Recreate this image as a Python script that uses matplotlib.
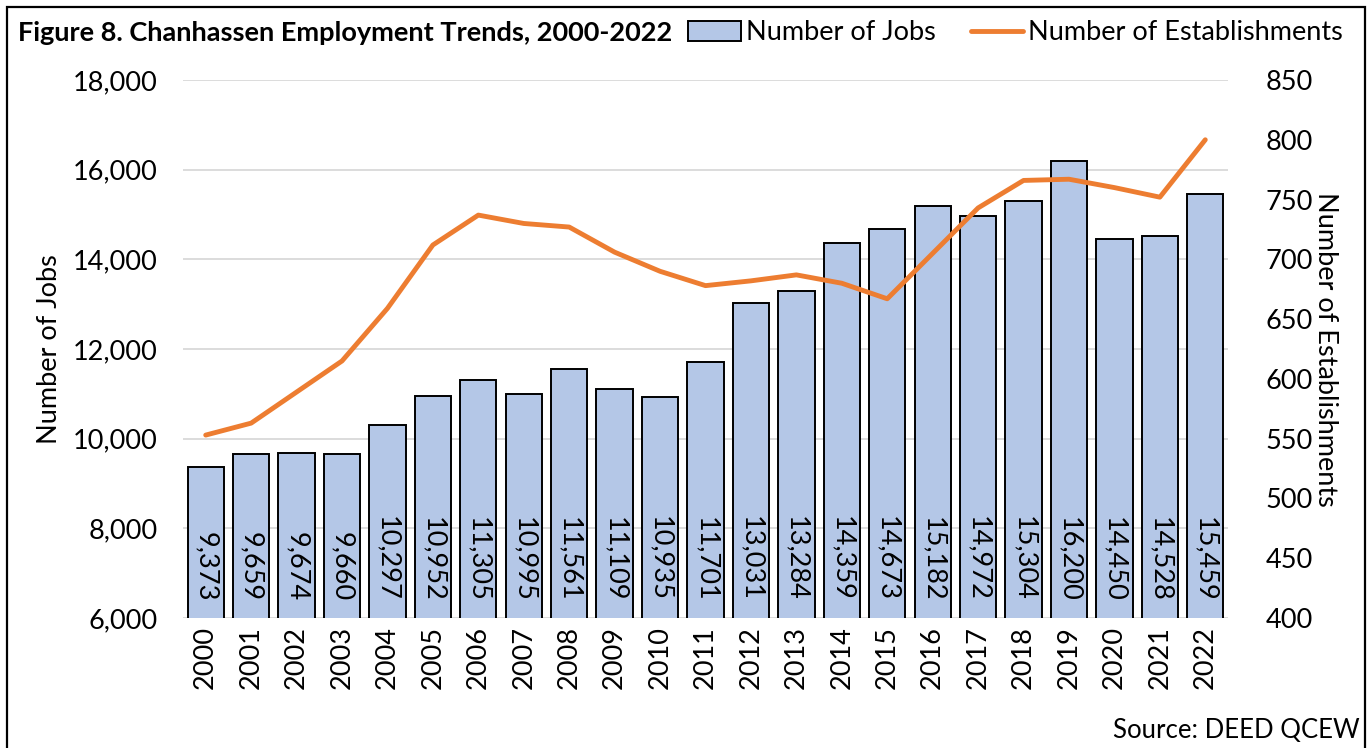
import matplotlib
matplotlib.use("Agg")
import matplotlib.pyplot as plt
from matplotlib.patches import Rectangle, Patch
from matplotlib.lines import Line2D
from matplotlib.ticker import FuncFormatter, MultipleLocator

plt.rcParams['font.family'] = ['Lato', 'DejaVu Sans']

years = [str(y) for y in range(2000, 2023)]
jobs = [9373, 9659, 9674, 9660, 10297, 10952, 11305, 10995, 11561, 11109, 10935,
        11701, 13031, 13284, 14359, 14673, 15182, 14972, 15304, 16200, 14450,
        14528, 15459]
establishments = [553, 563, 589, 615, 659, 712, 737, 730, 727, 706, 690, 678,
                  682, 687, 680, 667, 705, 743, 766, 767, 760, 752, 800]

title = "Figure 8. Chanhassen Employment Trends, 2000-2022"
bar_color = "#B4C7E7"
line_color = "#ED7D31"
grid_color = "#D9D9D9"
fs = 19.5

W, H = 1372, 748
fig = plt.figure(figsize=(W / 100, H / 100), dpi=100)
ax = fig.add_axes([183 / W, 1 - 618 / H, (1228 - 183) / W, (618 - 80) / H])
ax2 = ax.twinx()

x = list(range(len(years)))
ax.bar(x, jobs, width=0.8, color=bar_color, edgecolor="black", linewidth=1.4,
       zorder=2)
for xi, v in zip(x, jobs):
    ax.annotate(f"{v:,}", xy=(xi, 6000), xytext=(0, 12), textcoords="offset points",
                rotation=270, ha="center", va="bottom", fontsize=fs, zorder=3)

ax.set_ylim(6000, 18000)
ax.set_xlim(-0.5, len(years) - 0.5)
ax.yaxis.set_major_locator(MultipleLocator(2000))
ax.yaxis.set_major_formatter(FuncFormatter(lambda v, p: f"{int(v):,}"))
ax.grid(axis="y", color=grid_color, linewidth=1.3, zorder=0)
ax.set_axisbelow(True)
ax.set_xticks(x)
ax.set_xticklabels(years, rotation=90, fontsize=fs)
ax.tick_params(axis="both", length=0, labelsize=fs)
ax.tick_params(axis="y", pad=18)
ax.tick_params(axis="x", pad=6)
ax.set_ylabel("Number of Jobs", fontsize=fs, va="center")
ax.yaxis.set_label_coords((50 - 183) / 1045, 0.5)
for s in ax.spines.values():
    s.set_visible(False)

ax2.plot(x, establishments, color=line_color, linewidth=3.5, solid_capstyle="round",
         zorder=4)
ax2.set_ylim(400, 850)
ax2.yaxis.set_major_locator(MultipleLocator(50))
ax2.tick_params(axis="y", length=0, labelsize=fs, pad=27)
ax2.set_ylabel("Number of Establishments", fontsize=fs, rotation=270, va="center")
ax2.yaxis.set_label_coords((1325 - 183) / 1045, 0.5)
for s in ax2.spines.values():
    s.set_visible(False)

fig.text(18 / W, 1 - 33 / H, title, fontsize=fs, fontweight="bold",
         ha="left", va="center")

handles = [Patch(facecolor=bar_color, edgecolor="black", linewidth=1.4),
           Line2D([0], [0], color=line_color, linewidth=3.5, solid_capstyle="round")]
fig.legend(handles, ["Number of Jobs", "Number of Establishments"],
           loc="center left", bbox_to_anchor=(688 / W, 1 - 33 / H), ncol=2,
           frameon=False, fontsize=fs, handlelength=1.95, handleheight=0.75,
           handletextpad=0.18, columnspacing=1.3, borderaxespad=0, borderpad=0)

fig.text(1360 / W, 1 - 730 / H, "Source: DEED QCEW", fontsize=18.5,
         ha="right", va="center")

fig.patches.append(Rectangle((7 / W, -0.05), (1365 - 7) / W, 1.05 - 7 / H,
                             transform=fig.transFigure, fill=False,
                             edgecolor="black", linewidth=1.6))

fig.savefig("out.png", dpi=100)
